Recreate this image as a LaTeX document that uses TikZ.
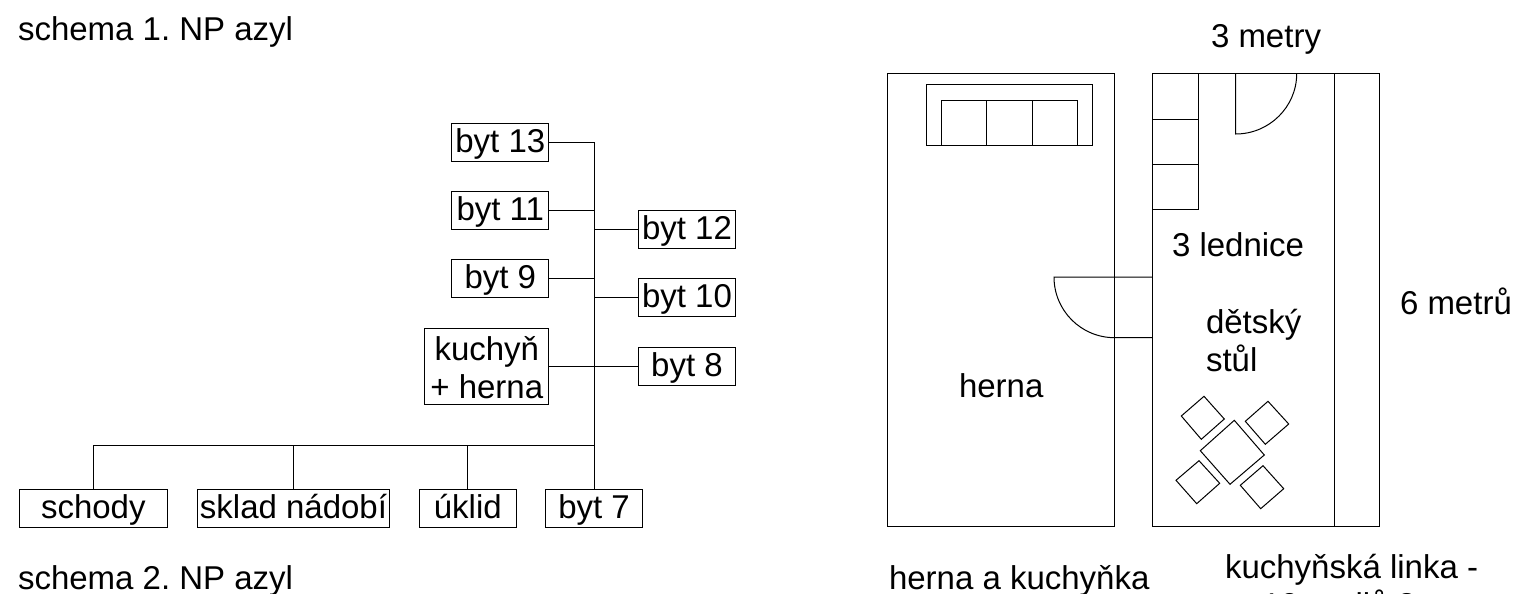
\documentclass[tikz,border=0pt]{standalone}
\usepackage{fontspec}
\setmainfont{Liberation Sans}
\newcommand{\lbl}{\frenchspacing\fontsize{33}{38}\selectfont}
\tikzset{
  wall/.style={draw=black,line width=1pt},
  roombox/.style={draw=black,line width=1pt,inner sep=0pt,outer sep=0pt,align=center,font=\lbl,fill=white},
  onelinebox/.style={roombox,text height=24pt,text depth=4pt},
  plain/.style={inner sep=0pt,outer sep=0pt,font=\lbl,anchor=base west,align=left},
  link/.style={draw=black,line width=1pt}
}
\begin{document}
\begin{tikzpicture}[x=1pt,y=-1pt]
\clip (0,0) rectangle (1516,594);
\fill[white] (0,0) rectangle (1516,594);
% schema boxes
\tikzset{narrow/.style={onelinebox,minimum width=96.7pt,minimum height=38pt}}
\node[narrow] (b13) at (500.3,142) {byt 13};
\node[narrow] (b11) at (500.3,210.2) {byt 11};
\node[narrow] (b9) at (500.3,278.8) {byt 9};
\node[roombox,minimum width=124.3pt,minimum height=76pt] (kh) at (486.8,366) {\rule{0pt}{28pt}kuchyň\\+ herna};
\node[narrow] (b12) at (687,229) {byt 12};
\node[narrow] (b10) at (687,297.8) {byt 10};
\node[narrow] (b8) at (687,366) {byt 8};
\node[onelinebox,minimum width=148.6pt,minimum height=37.6pt] (schody) at (93.3,508.7) {schody};
\node[onelinebox,minimum width=192pt,minimum height=37.6pt] (sklad) at (293.5,508.7) {sklad nádobí};
\node[onelinebox,minimum width=96.8pt,minimum height=37.6pt] (uklid) at (467.8,508.7) {úklid};
\node[onelinebox,minimum width=96.8pt,minimum height=37.6pt] (b7) at (594.1,508.7) {byt 7};
% connectors
\coordinate (trunktop) at (594.1,142);
\coordinate (junction) at (594.1,445);
\draw[link] (b13.east) -- (trunktop) -- (b7.north);
\draw[link] (b11.east) -- (b11.east -| trunktop);
\draw[link] (b9.east) -- (b9.east -| trunktop);
\draw[link] (kh.east) -- (b8.west);
\draw[link] (trunktop |- b12.west) -- (b12.west);
\draw[link] (trunktop |- b10.west) -- (b10.west);
\draw[link] (junction) -| (schody.north);
\draw[link] (sklad.north) -- (sklad.north |- junction);
\draw[link] (uklid.north) -- (uklid.north |- junction);
% plan: play room
\draw[wall] (887.7,73.7) rectangle (1114.7,526.7);
\draw[wall] (926,145.7) -- (926,84.7) -- (1092.7,84.7) -- (1092.7,145.7) -- cycle;
\draw[wall] (941.3,145.7) -- (941.3,100) -- (1077.3,100) -- (1077.3,145.7);
\draw[wall] (986.7,100) -- (986.7,145.7);
\draw[wall] (1032.3,100) -- (1032.3,145.7);
% plan: kitchen
\draw[wall] (1152.3,73.7) rectangle (1379.3,526.7);
\draw[wall] (1334,73.7) -- (1334,526.7);
\draw[wall] (1198.3,73.7) -- (1198.3,209.7) -- (1152.3,209.7);
\draw[wall] (1152.3,119) -- (1198.3,119);
\draw[wall] (1152.3,164.3) -- (1198.3,164.3);
\draw[wall] (1235.7,73.7) -- (1235.7,134) .. controls (1269.4,134) and (1296.7,106.7) .. (1296.7,73.7);
\draw[wall] (1152.3,277) -- (1054,277) .. controls (1054,310.5) and (1081,337.7) .. (1114.7,337.7) -- (1152.3,337.7);
% table and chairs
\draw[wall] (1234.3,420.3) -- (1264.3,455) -- (1230,484.3) -- (1200.3,450.7) -- cycle;
\draw[wall] (1204,396.3) -- (1224.3,419) -- (1201.3,439.3) -- (1181.3,416) -- cycle;
\draw[wall] (1268,401.3) -- (1288.7,424) -- (1265.3,444.3) -- (1245.3,421.3) -- cycle;
\draw[wall] (1199,460.7) -- (1219.7,483.3) -- (1196.7,503.7) -- (1176,480.3) -- cycle;
\draw[wall] (1263,465.7) -- (1283.7,488.7) -- (1260.7,508.7) -- (1240.3,485.3) -- cycle;
% labels
\node[plain] (t1) at (18,41) {schema 1. NP azyl};
\node[plain] (t2) at (18,589) {schema 2. NP azyl};
\node[plain] (t3) at (1211,47.5) {3 metry};
\node[plain] (t4) at (1172,256) {3 lednice};
\node[plain] (t5) at (1206,333) {dětský};
\node[plain] (t6) at (1206,371) {stůl};
\node[plain] (t7) at (959,397.5) {herna};
\node[plain] (t8) at (1400,314) {6 metrů};
\node[plain] (t9) at (889,589.5) {herna a kuchyňka};
\node[plain] (t10) at (1225,578.5) {kuchyňská linka -};
\node[plain] (t11) at (1262,616.5) {10 m dlů 3};
\end{tikzpicture}
\end{document}
